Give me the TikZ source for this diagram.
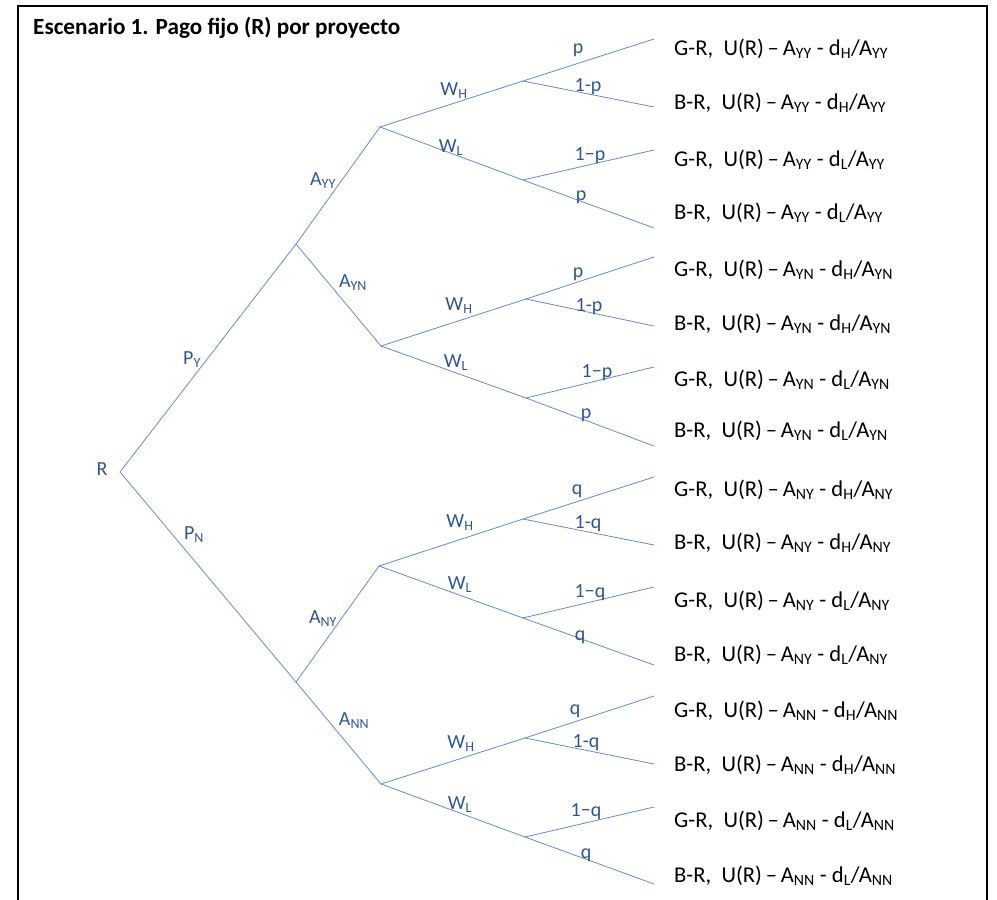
\documentclass[tikz,border=0pt]{standalone}
\usepackage{fontspec}
\setmainfont{Carlito}
\usetikzlibrary{positioning}
\definecolor{treeline}{RGB}{98,138,214}
\definecolor{treetext}{HTML}{2F5597}
\tikzset{every node/.append style={inner sep=0pt}}
\tikzset{branch/.style={treeline, line width=0.8pt}}
\tikzset{blbl/.style={treetext, anchor=base, font=\fontsize{20}{24}\selectfont}}
\tikzset{payoff/.style={anchor=base west, font=\fontsize{22.6}{26}\selectfont}}
\newcommand{\lo}[1]{\textsubscript{#1}}

\begin{document}
\begin{tikzpicture}[x=1pt,y=-1pt]
  \useasboundingbox (0,0) rectangle (997,900);
  \draw[line width=2pt] (18,900)--(18,6)--(987,6)--(987,900);
  \node[anchor=base west, font=\bfseries\fontsize{23.2}{27}\selectfont] (title) at (33,34)
       {Escenario 1. Pago fijo (R) por proyecto};

  % branch points
  \coordinate (R) at (120,472);
  \coordinate (PY) at (296,244);
  \coordinate (PN) at (296,682);
  \coordinate (AYY) at (380,127);
  \coordinate (AYN) at (381,346);
  \coordinate (ANY) at (379,566);
  \coordinate (ANN) at (381,784);
  \coordinate (WH1) at (523,81);
  \coordinate (WL1) at (523,180);
  \coordinate (WH2) at (526,299);
  \coordinate (WL2) at (526,398);
  \coordinate (WH3) at (523,519);
  \coordinate (WL3) at (523,618);
  \coordinate (WH4) at (525,738);
  \coordinate (WL4) at (525,837);

  % leaves and payoffs
  \foreach \i/\ly/\ty/\g/\d/\a in {1/39/55/G/H/YY, 2/107/109/B/H/YY, 3/150/166/G/L/YY, 4/228/219/B/L/YY,
      5/257/276/G/H/YN, 6/326/330/B/H/YN, 7/367/386/G/L/YN, 8/446/437/B/L/YN,
      9/477/496/G/H/NY, 10/545/549/B/H/NY, 11/587/607/G/L/NY, 12/665/661/B/L/NY,
      13/696/717/G/H/NN, 14/764/771/B/H/NN, 15/807/827/G/L/NN, 16/884/882/B/L/NN}{
    \coordinate (leaf\i) at (654,\ly);
    \node[payoff] (pay\i) at (674,\ty) {\g-R,\ \ U(R)\,–\,A\lo{\a} - d\lo{\d}/A\lo{\a}};
  }

  \draw[branch] (PY) -- (R) -- (PN);
  \draw[branch] (AYY) -- (PY) -- (AYN);
  \draw[branch] (ANY) -- (PN) -- (ANN);
  \draw[branch] (WH1) -- (AYY) -- (WL1);
  \draw[branch] (WH2) -- (AYN) -- (WL2);
  \draw[branch] (WH3) -- (ANY) -- (WL3);
  \draw[branch] (WH4) -- (ANN) -- (WL4);
  \foreach \w/\a/\b in {WH1/1/2, WL1/3/4, WH2/5/6, WL2/7/8, WH3/9/10, WL3/11/12, WH4/13/14, WL4/15/16}{
    \draw[branch] (leaf\a) -- (\w) -- (leaf\b);
  }

  % labels
  \node[blbl] (lR) at (102,475) {R};
  \node[blbl] (lPY) at (192,364) {P\lo{Y}};
  \node[blbl] (lPN) at (194,539) {P\lo{N}};
  \node[blbl] (lAYY) at (323,185) {A\lo{YY}};
  \node[blbl] (lAYN) at (353,287) {A\lo{YN}};
  \node[blbl] (lANY) at (323,623) {A\lo{NY}};
  \node[blbl] (lANN) at (354,725) {A\lo{NN}};
  \node[blbl] (lWH1) at (454,95) {W\lo{H}};
  \node[blbl] (lWL1) at (451,152) {W\lo{L}};
  \node[blbl] (lWH2) at (459,310) {W\lo{H}};
  \node[blbl] (lWL2) at (456,367) {W\lo{L}};
  \node[blbl] (lWH3) at (460,527) {W\lo{H}};
  \node[blbl] (lWL3) at (460,589) {W\lo{L}};
  \node[blbl] (lWH4) at (461,748) {W\lo{H}};
  \node[blbl] (lWL4) at (460,809) {W\lo{L}};

  \node[blbl] (lp1) at (578,53) {p};
  \node[blbl] (lp2) at (588,91) {1-p};
  \node[blbl] (lp3) at (590,160) {1−p};
  \node[blbl] (lp4) at (581,200) {p};
  \node[blbl] (lp5) at (578,277) {p};
  \node[blbl] (lp6) at (589,311) {1-p};
  \node[blbl] (lp7) at (597,377) {1−p};
  \node[blbl] (lp8) at (586,418) {p};
  \node[blbl] (lq1) at (577,494) {q};
  \node[blbl] (lq2) at (588,528) {1-q};
  \node[blbl] (lq3) at (590,597) {1−q};
  \node[blbl] (lq4) at (580,640) {q};
  \node[blbl] (lq5) at (575,714) {q};
  \node[blbl] (lq6) at (586,747) {1-q};
  \node[blbl] (lq7) at (586,816) {1−q};
  \node[blbl] (lq8) at (586,858) {q};
\end{tikzpicture}
\end{document}
